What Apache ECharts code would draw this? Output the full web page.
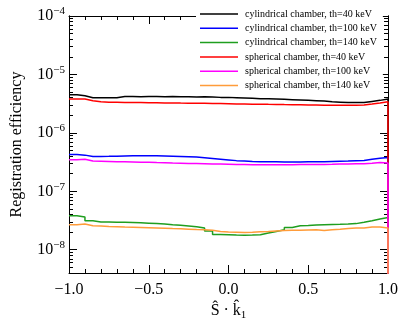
<!DOCTYPE html>
<html>
<head>
<meta charset="utf-8">
<script src="https://cdn.jsdelivr.net/npm/echarts@6/dist/echarts.min.js"></script>
<style>
  html, body { margin: 0; padding: 0; background: #fff; }
  #chart { width: 409px; height: 330px; }
</style>
</head>
<body>
<div id="chart"></div>
<script>
// lower edges of the 40 bins in S.k1
const binEdges = [
  -1.00, -0.95, -0.90, -0.85, -0.80, -0.75, -0.70, -0.65, -0.60, -0.55,
  -0.50, -0.45, -0.40, -0.35, -0.30, -0.25, -0.20, -0.15, -0.10, -0.05,
   0.00,  0.05,  0.10,  0.15,  0.20,  0.25,  0.30,  0.35,  0.40,  0.45,
   0.50,  0.55,  0.60,  0.65,  0.70,  0.75,  0.80,  0.85,  0.90,  0.95
]
const xEnd = 1.0

const seriesNames = [
  'cylindrical chamber, th=40 keV',
  'cylindrical chamber, th=100 keV',
  'cylindrical chamber, th=140 keV',
  'spherical chamber, th=40 keV',
  'spherical chamber, th=100 keV',
  'spherical chamber, th=140 keV'
]
const seriesColors = ['#000000', '#0000ff', '#1f9e1f', '#ff0000', '#ff00ff', '#ff9c3a']

const cyl40 = [
  4.50e-6, 4.30e-6, 4.00e-6, 4.00e-6, 4.00e-6, 4.00e-6, 4.20e-6, 4.20e-6, 4.15e-6, 4.20e-6,
  4.20e-6, 4.15e-6, 4.20e-6, 4.15e-6, 4.15e-6, 4.10e-6, 4.15e-6, 4.10e-6, 4.05e-6, 4.05e-6,
  4.00e-6, 3.95e-6, 3.90e-6, 3.85e-6, 3.85e-6, 3.80e-6, 3.75e-6, 3.70e-6, 3.65e-6, 3.60e-6,
  3.55e-6, 3.50e-6, 3.40e-6, 3.35e-6, 3.30e-6, 3.30e-6, 3.30e-6, 3.45e-6, 3.60e-6, 3.80e-6
]
const cyl100 = [
  4.26e-7, 4.16e-7, 3.93e-7, 3.95e-7, 3.97e-7, 4.00e-7, 4.02e-7, 4.04e-7, 4.05e-7, 4.05e-7,
  4.05e-7, 4.03e-7, 4.00e-7, 3.95e-7, 3.90e-7, 3.85e-7, 3.75e-7, 3.65e-7, 3.55e-7, 3.45e-7,
  3.35e-7, 3.30e-7, 3.25e-7, 3.22e-7, 3.20e-7, 3.19e-7, 3.18e-7, 3.18e-7, 3.18e-7, 3.20e-7,
  3.20e-7, 3.22e-7, 3.25e-7, 3.28e-7, 3.30e-7, 3.33e-7, 3.36e-7, 3.55e-7, 3.69e-7, 3.80e-7
]
const cyl140 = [
  3.81e-8, 3.62e-8, 3.13e-8, 2.98e-8, 2.97e-8, 2.96e-8, 2.95e-8, 2.93e-8, 2.90e-8, 2.85e-8,
  2.80e-8, 2.75e-8, 2.68e-8, 2.62e-8, 2.55e-8, 2.48e-8, 2.35e-8, 2.10e-8, 1.82e-8, 1.80e-8,
  1.78e-8, 1.77e-8, 1.78e-8, 1.80e-8, 1.93e-8, 2.06e-8, 2.20e-8, 2.40e-8, 2.57e-8, 2.60e-8,
  2.65e-8, 2.68e-8, 2.70e-8, 2.72e-8, 2.75e-8, 2.80e-8, 2.95e-8, 3.13e-8, 3.35e-8, 3.55e-8
]
const sph40 = [
  3.81e-6, 3.80e-6, 3.55e-6, 3.40e-6, 3.35e-6, 3.35e-6, 3.32e-6, 3.30e-6, 3.30e-6, 3.28e-6,
  3.27e-6, 3.25e-6, 3.25e-6, 3.23e-6, 3.22e-6, 3.20e-6, 3.20e-6, 3.18e-6, 3.17e-6, 3.15e-6,
  3.13e-6, 3.12e-6, 3.10e-6, 3.10e-6, 3.08e-6, 3.07e-6, 3.05e-6, 3.04e-6, 3.02e-6, 3.00e-6,
  3.00e-6, 2.98e-6, 2.97e-6, 2.97e-6, 2.97e-6, 2.98e-6, 3.00e-6, 3.12e-6, 3.25e-6, 3.40e-6
]
const sph100 = [
  3.46e-7, 3.55e-7, 3.30e-7, 3.28e-7, 3.25e-7, 3.22e-7, 3.20e-7, 3.18e-7, 3.15e-7, 3.13e-7,
  3.10e-7, 3.08e-7, 3.05e-7, 3.03e-7, 3.00e-7, 2.98e-7, 2.96e-7, 2.94e-7, 2.92e-7, 2.90e-7,
  2.88e-7, 2.87e-7, 2.86e-7, 2.85e-7, 2.85e-7, 2.85e-7, 2.85e-7, 2.86e-7, 2.87e-7, 2.88e-7,
  2.88e-7, 2.89e-7, 2.90e-7, 2.92e-7, 2.93e-7, 2.95e-7, 2.97e-7, 3.03e-7, 3.10e-7, 3.05e-7
]
const sph140 = [
  2.68e-8, 2.75e-8, 2.57e-8, 2.55e-8, 2.50e-8, 2.48e-8, 2.44e-8, 2.42e-8, 2.40e-8, 2.38e-8,
  2.36e-8, 2.33e-8, 2.30e-8, 2.28e-8, 2.25e-8, 2.22e-8, 2.20e-8, 2.15e-8, 2.05e-8, 2.02e-8,
  2.00e-8, 1.98e-8, 2.00e-8, 2.03e-8, 2.06e-8, 2.10e-8, 2.14e-8, 2.15e-8, 2.16e-8, 2.18e-8,
  2.20e-8, 2.14e-8, 2.20e-8, 2.25e-8, 2.32e-8, 2.35e-8, 2.35e-8, 2.44e-8, 2.44e-8, 2.35e-8
]
const allSeries = [cyl40, cyl100, cyl140, sph40, sph100, sph140]

const yMin = 4e-9
const yMax = 1e-4
const yMajorTicks = [1e-8, 1e-7, 1e-6, 1e-5, 1e-4]
const yMinorTicks = [
  5e-9, 6e-9, 7e-9, 8e-9, 9e-9,
  2e-8, 3e-8, 4e-8, 5e-8, 6e-8, 7e-8, 8e-8, 9e-8,
  2e-7, 3e-7, 4e-7, 5e-7, 6e-7, 7e-7, 8e-7, 9e-7,
  2e-6, 3e-6, 4e-6, 5e-6, 6e-6, 7e-6, 8e-6, 9e-6,
  2e-5, 3e-5, 4e-5, 5e-5, 6e-5, 7e-5, 8e-5, 9e-5
]
const belowAxis = 1e-12 // histogram edge drops out of the frame

const FONT = '"Liberation Serif", "DejaVu Serif", serif'

const chart = echarts.init(document.getElementById('chart'), null, { renderer: 'canvas' })

function histData(vals) {
  const d = binEdges.map((x, i) => [x, vals[i]])
  d.push([xEnd, belowAxis])
  return d
}

function yLabel(v) {
  const e = Math.round(Math.log10(v))
  return '{b|10}{s|' + String(e).replace('-', '\u2212') + '}'
}

function yAxisCfg(pos, ticks, len, labels) {
  return {
    type: 'log', logBase: 10, min: yMin, max: yMax, position: pos,
    axisLine: { show: true, onZero: false, lineStyle: { color: '#000', width: 1 } },
    axisTick: { show: true, inside: true, length: len, customValues: ticks, lineStyle: { color: '#000' } },
    minorTick: { show: false },
    splitLine: { show: false },
    axisLabel: labels ? {
      show: true, customValues: yMajorTicks, margin: 4,
      formatter: yLabel,
      rich: {
        b: { fontFamily: FONT, fontSize: 16, color: '#000' },
        s: { fontFamily: FONT, fontSize: 11, color: '#000', padding: [0, 0, 9, 0] }
      }
    } : { show: false }
  }
}

function xAxisCfg(pos, labels) {
  return {
    type: 'value', min: -1, max: 1, position: pos, splitNumber: 4,
    axisLine: { show: true, onZero: false, lineStyle: { color: '#000', width: 1 } },
    axisTick: { show: true, inside: true, length: 8, lineStyle: { color: '#000' } },
    minorTick: { show: true, splitNumber: 5, length: 4, lineStyle: { color: '#000' } },
    splitLine: { show: false },
    name: labels ? '{a|\u015C \u00B7 k\u0302}{sub|1}' : '',
    nameLocation: 'middle', nameGap: 24,
    nameTextStyle: {
      rich: {
        a: { fontFamily: FONT, fontSize: 16, color: '#000' },
        sub: { fontFamily: FONT, fontSize: 11, color: '#000', padding: [8, 0, 0, 0] }
      }
    },
    axisLabel: labels ? {
      show: true, margin: 9, fontFamily: FONT, fontSize: 16, color: '#000',
      formatter: v => v.toFixed(1).replace('-', '\u2212')
    } : { show: false }
  }
}

const mainY = yAxisCfg('left', yMajorTicks, 8, true)
mainY.name = 'Registration efficiency'
mainY.nameLocation = 'middle'
mainY.nameGap = 44
mainY.nameTextStyle = { fontFamily: FONT, fontSize: 16, color: '#000' }

const option = {
  animation: false,
  backgroundColor: '#fff',
  grid: { left: 69, right: 21, top: 16, bottom: 57 },
  legend: {
    orient: 'vertical', left: 196, top: 6,
    backgroundColor: '#fff', padding: [3, 6, 3, 4],
    icon: 'rect', itemWidth: 38, itemHeight: 1.5, itemGap: 4.3,
    textStyle: { fontFamily: FONT, fontSize: 10, color: '#000', lineHeight: 10, padding: [0, 0, 0, 2] },
    data: seriesNames
  },
  xAxis: [xAxisCfg('bottom', true), xAxisCfg('top', false)],
  yAxis: [
    mainY,
    yAxisCfg('left', yMinorTicks, 4, false),
    yAxisCfg('right', yMajorTicks, 8, false),
    yAxisCfg('right', yMinorTicks, 4, false)
  ],
  series: allSeries.map((vals, i) => ({
    type: 'line', name: seriesNames[i],
    xAxisIndex: 0, yAxisIndex: 0,
    step: 'end', symbol: 'none', clip: true,
    lineStyle: { color: seriesColors[i], width: 1.5 },
    itemStyle: { color: seriesColors[i] },
    data: histData(vals)
  }))
}

chart.setOption(option)
</script>
</body>
</html>
